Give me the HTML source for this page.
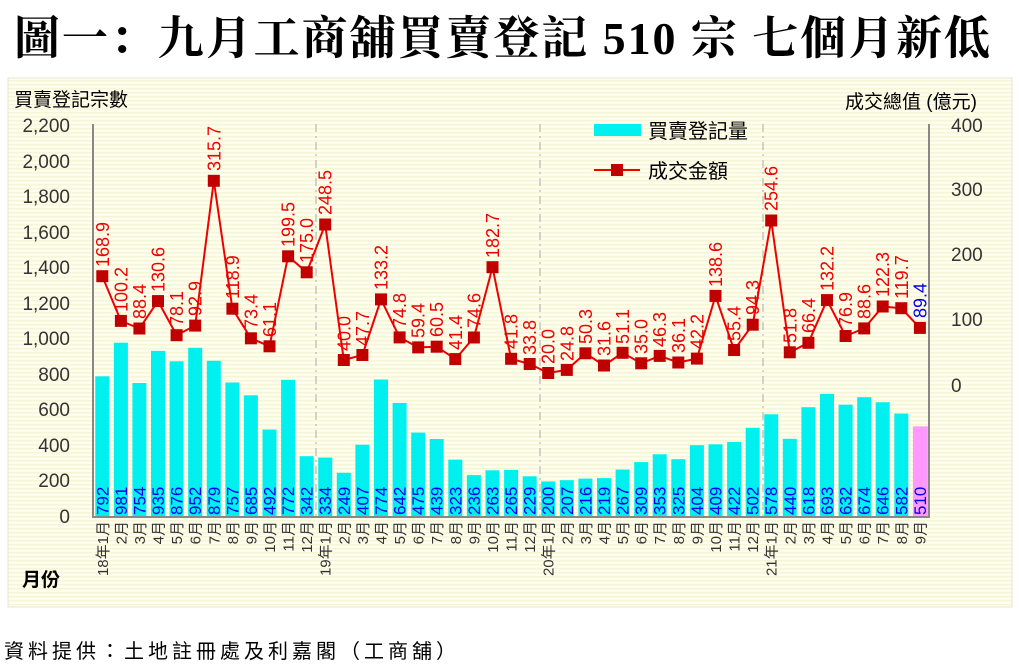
<!DOCTYPE html>
<html><head><meta charset="utf-8"><style>
body{margin:0;background:#fff;width:1022px;height:671px;overflow:hidden}
svg{display:block;font-family:"Liberation Sans","Noto Sans CJK TC",sans-serif}
.bl{fill:#0000ee;font-size:17px}
.ll{fill:#ee0000;font-size:18px}
.xl{fill:#333;font-size:15px;text-anchor:end}
.ax{fill:#333;font-size:19px}
</style></head><body>
<svg width="1022" height="671" viewBox="0 0 1022 671">
<defs><pattern id="st" width="4" height="4" patternUnits="userSpaceOnUse"><rect width="4" height="4" fill="#fefef0"/><rect width="4" height="1.5" fill="#f6f6d6"/></pattern></defs>
<text x="14" y="54" font-family="'Liberation Serif','Noto Serif CJK SC',serif" font-weight="bold" font-size="46" fill="#000" textLength="976" lengthAdjust="spacing">圖一：九月工商舖買賣登記 510 宗  七個月新低</text>
<rect x="8" y="78" width="1004" height="529" fill="url(#st)" stroke="#e6e6d0"/>
<text x="14" y="106" font-size="19" fill="#000">買賣登記宗數</text>
<text x="845" y="108" font-size="19" fill="#000">成交總值 (億元)</text>
<text x="22" y="586" font-size="19" fill="#000" font-weight="bold">月份</text>
<g class="ax" text-anchor="end">
<text x="70" y="132">2,200</text><text x="70" y="168">2,000</text><text x="70" y="203">1,800</text><text x="70" y="239">1,600</text><text x="70" y="274">1,400</text><text x="70" y="310">1,200</text><text x="70" y="345">1,000</text><text x="70" y="381">800</text><text x="70" y="416">600</text><text x="70" y="452">400</text><text x="70" y="487">200</text><text x="70" y="523">0</text>
</g>
<g class="ax"><text x="951" y="132">400</text><text x="951" y="196">300</text><text x="951" y="261">200</text><text x="951" y="326">100</text><text x="951" y="392">0</text></g>
<g stroke="#aaa" stroke-dasharray="8,4,2,4"><line x1="316" y1="124" x2="316" y2="517"/><line x1="540" y1="124" x2="540" y2="517"/><line x1="763" y1="124" x2="763" y2="517"/></g>
<g fill="#00f0f0">
<rect x="95.3" y="376.3" width="14" height="140.7"/><rect x="113.9" y="342.7" width="14" height="174.3"/><rect x="132.4" y="383" width="14" height="134"/><rect x="151" y="350.9" width="14" height="166.1"/><rect x="169.6" y="361.3" width="14" height="155.7"/><rect x="188.2" y="347.8" width="14" height="169.2"/><rect x="206.8" y="360.8" width="14" height="156.2"/><rect x="225.4" y="382.5" width="14" height="134.5"/><rect x="243.9" y="395.3" width="14" height="121.7"/><rect x="262.5" y="429.6" width="14" height="87.4"/><rect x="281.1" y="379.8" width="14" height="137.2"/><rect x="299.7" y="456.2" width="14" height="60.8"/>
<rect x="318.2" y="457.6" width="14" height="59.4"/><rect x="336.8" y="472.8" width="14" height="44.2"/><rect x="355.4" y="444.7" width="14" height="72.3"/><rect x="374" y="379.5" width="14" height="137.5"/><rect x="392.6" y="402.9" width="14" height="114.1"/><rect x="411.2" y="432.6" width="14" height="84.4"/><rect x="429.7" y="439" width="14" height="78"/><rect x="448.3" y="459.6" width="14" height="57.4"/><rect x="466.9" y="475.1" width="14" height="41.9"/><rect x="485.5" y="470.3" width="14" height="46.7"/><rect x="504.1" y="469.9" width="14" height="47.1"/><rect x="522.7" y="476.3" width="14" height="40.7"/>
<rect x="541.2" y="481.5" width="14" height="35.5"/><rect x="559.8" y="480.2" width="14" height="36.8"/><rect x="578.4" y="478.6" width="14" height="38.4"/><rect x="597" y="478.1" width="14" height="38.9"/><rect x="615.6" y="469.6" width="14" height="47.4"/><rect x="634.2" y="462.1" width="14" height="54.9"/><rect x="652.7" y="454.3" width="14" height="62.7"/><rect x="671.3" y="459.2" width="14" height="57.8"/><rect x="689.9" y="445.2" width="14" height="71.8"/><rect x="708.5" y="444.3" width="14" height="72.7"/><rect x="727.1" y="442" width="14" height="75"/><rect x="745.7" y="427.8" width="14" height="89.2"/>
<rect x="764.2" y="414.3" width="14" height="102.7"/><rect x="782.8" y="438.8" width="14" height="78.2"/><rect x="801.4" y="407.2" width="14" height="109.8"/><rect x="820" y="393.9" width="14" height="123.1"/><rect x="838.6" y="404.7" width="14" height="112.3"/><rect x="857.2" y="397.2" width="14" height="119.8"/><rect x="875.7" y="402.2" width="14" height="114.8"/><rect x="894.3" y="413.6" width="14" height="103.4"/>
<rect x="912.9" y="426.4" width="15" height="90.6" fill="#ff99ff"/>
</g>
<g stroke="#888" stroke-width="2"><line x1="93" y1="124" x2="93" y2="518"/><line x1="929" y1="124" x2="929" y2="518"/><line x1="92" y1="517" x2="930" y2="517"/></g>
<g class="bl">
<text transform="translate(108.3,515) rotate(-90)">792</text><text transform="translate(126.9,515) rotate(-90)">981</text><text transform="translate(145.4,515) rotate(-90)">754</text><text transform="translate(164,515) rotate(-90)">935</text><text transform="translate(182.6,515) rotate(-90)">876</text><text transform="translate(201.2,515) rotate(-90)">952</text><text transform="translate(219.8,515) rotate(-90)">879</text><text transform="translate(238.4,515) rotate(-90)">757</text><text transform="translate(256.9,515) rotate(-90)">685</text><text transform="translate(275.5,515) rotate(-90)">492</text><text transform="translate(294.1,515) rotate(-90)">772</text><text transform="translate(312.7,515) rotate(-90)">342</text>
<text transform="translate(331.2,515) rotate(-90)">334</text><text transform="translate(349.8,515) rotate(-90)">249</text><text transform="translate(368.4,515) rotate(-90)">407</text><text transform="translate(387,515) rotate(-90)">774</text><text transform="translate(405.6,515) rotate(-90)">642</text><text transform="translate(424.2,515) rotate(-90)">475</text><text transform="translate(442.7,515) rotate(-90)">439</text><text transform="translate(461.3,515) rotate(-90)">323</text><text transform="translate(479.9,515) rotate(-90)">236</text><text transform="translate(498.5,515) rotate(-90)">263</text><text transform="translate(517.1,515) rotate(-90)">265</text><text transform="translate(535.7,515) rotate(-90)">229</text>
<text transform="translate(554.2,515) rotate(-90)">200</text><text transform="translate(572.8,515) rotate(-90)">207</text><text transform="translate(591.4,515) rotate(-90)">216</text><text transform="translate(610,515) rotate(-90)">219</text><text transform="translate(628.6,515) rotate(-90)">267</text><text transform="translate(647.2,515) rotate(-90)">309</text><text transform="translate(665.7,515) rotate(-90)">353</text><text transform="translate(684.3,515) rotate(-90)">325</text><text transform="translate(702.9,515) rotate(-90)">404</text><text transform="translate(721.5,515) rotate(-90)">409</text><text transform="translate(740.1,515) rotate(-90)">422</text><text transform="translate(758.7,515) rotate(-90)">502</text>
<text transform="translate(777.2,515) rotate(-90)">578</text><text transform="translate(795.8,515) rotate(-90)">440</text><text transform="translate(814.4,515) rotate(-90)">618</text><text transform="translate(833,515) rotate(-90)">693</text><text transform="translate(851.6,515) rotate(-90)">632</text><text transform="translate(870.2,515) rotate(-90)">674</text><text transform="translate(888.7,515) rotate(-90)">646</text><text transform="translate(907.3,515) rotate(-90)">582</text><text transform="translate(925.9,515) rotate(-90)">510</text>
</g>
<polyline fill="none" stroke="#ee0000" stroke-width="2" points="102.3,276.2 120.9,320.9 139.4,328.5 158,301.1 176.6,335.2 195.2,325.6 213.8,180.8 232.4,308.7 250.9,338.3 269.5,346.3 288.1,256.3 306.7,272.3 325.2,224.5 343.8,360 362.4,355 381,299.4 399.6,337.4 418.2,347.4 436.7,346.7 455.3,359.1 473.9,337.5 492.5,267.2 511.1,358.8 529.7,364 548.2,373 566.8,369.9 585.4,353.3 604,365.5 622.6,352.8 641.2,363.3 659.7,355.9 678.3,362.5 696.9,358.6 715.5,295.9 734.1,350 752.7,324.7 771.2,220.5 789.8,352.3 808.4,342.8 827,300.1 845.6,336 864.2,328.4 882.7,306.5 901.3,308.2 919.9,327.9"/>
<g fill="#c00000">
<rect x="96.3" y="270.2" width="12" height="12"/><rect x="114.9" y="314.9" width="12" height="12"/><rect x="133.4" y="322.5" width="12" height="12"/><rect x="152" y="295.1" width="12" height="12"/><rect x="170.6" y="329.2" width="12" height="12"/><rect x="189.2" y="319.6" width="12" height="12"/><rect x="207.8" y="174.8" width="12" height="12"/><rect x="226.4" y="302.7" width="12" height="12"/><rect x="244.9" y="332.3" width="12" height="12"/><rect x="263.5" y="340.3" width="12" height="12"/><rect x="282.1" y="250.3" width="12" height="12"/><rect x="300.7" y="266.3" width="12" height="12"/>
<rect x="319.2" y="218.5" width="12" height="12"/><rect x="337.8" y="354" width="12" height="12"/><rect x="356.4" y="349" width="12" height="12"/><rect x="375" y="293.4" width="12" height="12"/><rect x="393.6" y="331.4" width="12" height="12"/><rect x="412.2" y="341.4" width="12" height="12"/><rect x="430.7" y="340.7" width="12" height="12"/><rect x="449.3" y="353.1" width="12" height="12"/><rect x="467.9" y="331.5" width="12" height="12"/><rect x="486.5" y="261.2" width="12" height="12"/><rect x="505.1" y="352.8" width="12" height="12"/><rect x="523.7" y="358" width="12" height="12"/>
<rect x="542.2" y="367" width="12" height="12"/><rect x="560.8" y="363.9" width="12" height="12"/><rect x="579.4" y="347.3" width="12" height="12"/><rect x="598" y="359.5" width="12" height="12"/><rect x="616.6" y="346.8" width="12" height="12"/><rect x="635.2" y="357.3" width="12" height="12"/><rect x="653.7" y="349.9" width="12" height="12"/><rect x="672.3" y="356.5" width="12" height="12"/><rect x="690.9" y="352.6" width="12" height="12"/><rect x="709.5" y="289.9" width="12" height="12"/><rect x="728.1" y="344" width="12" height="12"/><rect x="746.7" y="318.7" width="12" height="12"/>
<rect x="765.2" y="214.5" width="12" height="12"/><rect x="783.8" y="346.3" width="12" height="12"/><rect x="802.4" y="336.8" width="12" height="12"/><rect x="821" y="294.1" width="12" height="12"/><rect x="839.6" y="330" width="12" height="12"/><rect x="858.2" y="322.4" width="12" height="12"/><rect x="876.7" y="300.5" width="12" height="12"/><rect x="895.3" y="302.2" width="12" height="12"/><rect x="913.9" y="321.9" width="12" height="12"/>
</g>
<g class="ll">
<text transform="translate(108.8,267) rotate(-90)">168.9</text><text transform="translate(127.4,312) rotate(-90)">100.2</text><text transform="translate(145.9,319) rotate(-90)">88.4</text><text transform="translate(164.5,292) rotate(-90)">130.6</text><text transform="translate(183.1,326) rotate(-90)">78.1</text><text transform="translate(201.7,316) rotate(-90)">92.9</text><text transform="translate(220.3,171) rotate(-90)">315.7</text><text transform="translate(238.9,299) rotate(-90)">118.9</text><text transform="translate(257.4,329) rotate(-90)">73.4</text><text transform="translate(276,337) rotate(-90)">61.1</text><text transform="translate(294.6,247) rotate(-90)">199.5</text><text transform="translate(313.2,263) rotate(-90)">175.0</text>
<text transform="translate(331.7,215) rotate(-90)">248.5</text><text transform="translate(350.3,351) rotate(-90)">40.0</text><text transform="translate(368.9,346) rotate(-90)">47.7</text><text transform="translate(387.5,290) rotate(-90)">133.2</text><text transform="translate(406.1,328) rotate(-90)">74.8</text><text transform="translate(424.7,338) rotate(-90)">59.4</text><text transform="translate(443.2,337) rotate(-90)">60.5</text><text transform="translate(461.8,350) rotate(-90)">41.4</text><text transform="translate(480.4,328) rotate(-90)">74.6</text><text transform="translate(499,258) rotate(-90)">182.7</text><text transform="translate(517.6,349) rotate(-90)">41.8</text><text transform="translate(536.2,355) rotate(-90)">33.8</text>
<text transform="translate(554.7,364) rotate(-90)">20.0</text><text transform="translate(573.3,361) rotate(-90)">24.8</text><text transform="translate(591.9,344) rotate(-90)">50.3</text><text transform="translate(610.5,356) rotate(-90)">31.6</text><text transform="translate(629.1,344) rotate(-90)">51.1</text><text transform="translate(647.7,354) rotate(-90)">35.0</text><text transform="translate(666.2,347) rotate(-90)">46.3</text><text transform="translate(684.8,353) rotate(-90)">36.1</text><text transform="translate(703.4,349) rotate(-90)">42.2</text><text transform="translate(722,287) rotate(-90)">138.6</text><text transform="translate(740.6,341) rotate(-90)">55.4</text><text transform="translate(759.2,315) rotate(-90)">94.3</text>
<text transform="translate(777.7,211) rotate(-90)">254.6</text><text transform="translate(796.3,343) rotate(-90)">51.8</text><text transform="translate(814.9,333) rotate(-90)">66.4</text><text transform="translate(833.5,291) rotate(-90)">132.2</text><text transform="translate(852.1,327) rotate(-90)">76.9</text><text transform="translate(870.7,319) rotate(-90)">88.6</text><text transform="translate(889.2,297) rotate(-90)">122.3</text><text transform="translate(907.8,299) rotate(-90)">119.7</text><text transform="translate(926.4,318) rotate(-90)" fill="#0000ee">89.4</text>
</g>
<g class="xl">
<text transform="translate(107.8,521) rotate(-90)">18年1月</text><text transform="translate(126.4,521) rotate(-90)">2月</text><text transform="translate(144.9,521) rotate(-90)">3月</text><text transform="translate(163.5,521) rotate(-90)">4月</text><text transform="translate(182.1,521) rotate(-90)">5月</text><text transform="translate(200.7,521) rotate(-90)">6月</text><text transform="translate(219.3,521) rotate(-90)">7月</text><text transform="translate(237.9,521) rotate(-90)">8月</text><text transform="translate(256.4,521) rotate(-90)">9月</text><text transform="translate(275,521) rotate(-90)">10月</text><text transform="translate(293.6,521) rotate(-90)">11月</text><text transform="translate(312.2,521) rotate(-90)">12月</text>
<text transform="translate(330.7,521) rotate(-90)">19年1月</text><text transform="translate(349.3,521) rotate(-90)">2月</text><text transform="translate(367.9,521) rotate(-90)">3月</text><text transform="translate(386.5,521) rotate(-90)">4月</text><text transform="translate(405.1,521) rotate(-90)">5月</text><text transform="translate(423.7,521) rotate(-90)">6月</text><text transform="translate(442.2,521) rotate(-90)">7月</text><text transform="translate(460.8,521) rotate(-90)">8月</text><text transform="translate(479.4,521) rotate(-90)">9月</text><text transform="translate(498,521) rotate(-90)">10月</text><text transform="translate(516.6,521) rotate(-90)">11月</text><text transform="translate(535.2,521) rotate(-90)">12月</text>
<text transform="translate(553.7,521) rotate(-90)">20年1月</text><text transform="translate(572.3,521) rotate(-90)">2月</text><text transform="translate(590.9,521) rotate(-90)">3月</text><text transform="translate(609.5,521) rotate(-90)">4月</text><text transform="translate(628.1,521) rotate(-90)">5月</text><text transform="translate(646.7,521) rotate(-90)">6月</text><text transform="translate(665.2,521) rotate(-90)">7月</text><text transform="translate(683.8,521) rotate(-90)">8月</text><text transform="translate(702.4,521) rotate(-90)">9月</text><text transform="translate(721,521) rotate(-90)">10月</text><text transform="translate(739.6,521) rotate(-90)">11月</text><text transform="translate(758.2,521) rotate(-90)">12月</text>
<text transform="translate(776.7,521) rotate(-90)">21年1月</text><text transform="translate(795.3,521) rotate(-90)">2月</text><text transform="translate(813.9,521) rotate(-90)">3月</text><text transform="translate(832.5,521) rotate(-90)">4月</text><text transform="translate(851.1,521) rotate(-90)">5月</text><text transform="translate(869.7,521) rotate(-90)">6月</text><text transform="translate(888.2,521) rotate(-90)">7月</text><text transform="translate(906.8,521) rotate(-90)">8月</text><text transform="translate(925.4,521) rotate(-90)">9月</text>
</g>
<rect x="594" y="124" width="47" height="12" fill="#00f0f0"/>
<text x="648" y="138" font-size="20" fill="#000">買賣登記量</text>
<line x1="594" y1="170" x2="640" y2="170" stroke="#ee0000" stroke-width="2"/>
<rect x="611" y="164" width="12" height="12" fill="#c00000"/>
<text x="648" y="178" font-size="20" fill="#000">成交金額</text>
<text x="4" y="658" font-size="20" fill="#000" letter-spacing="4">資料提供：土地註冊處及利嘉閣（工商舖）</text>
</svg>
</body></html>
